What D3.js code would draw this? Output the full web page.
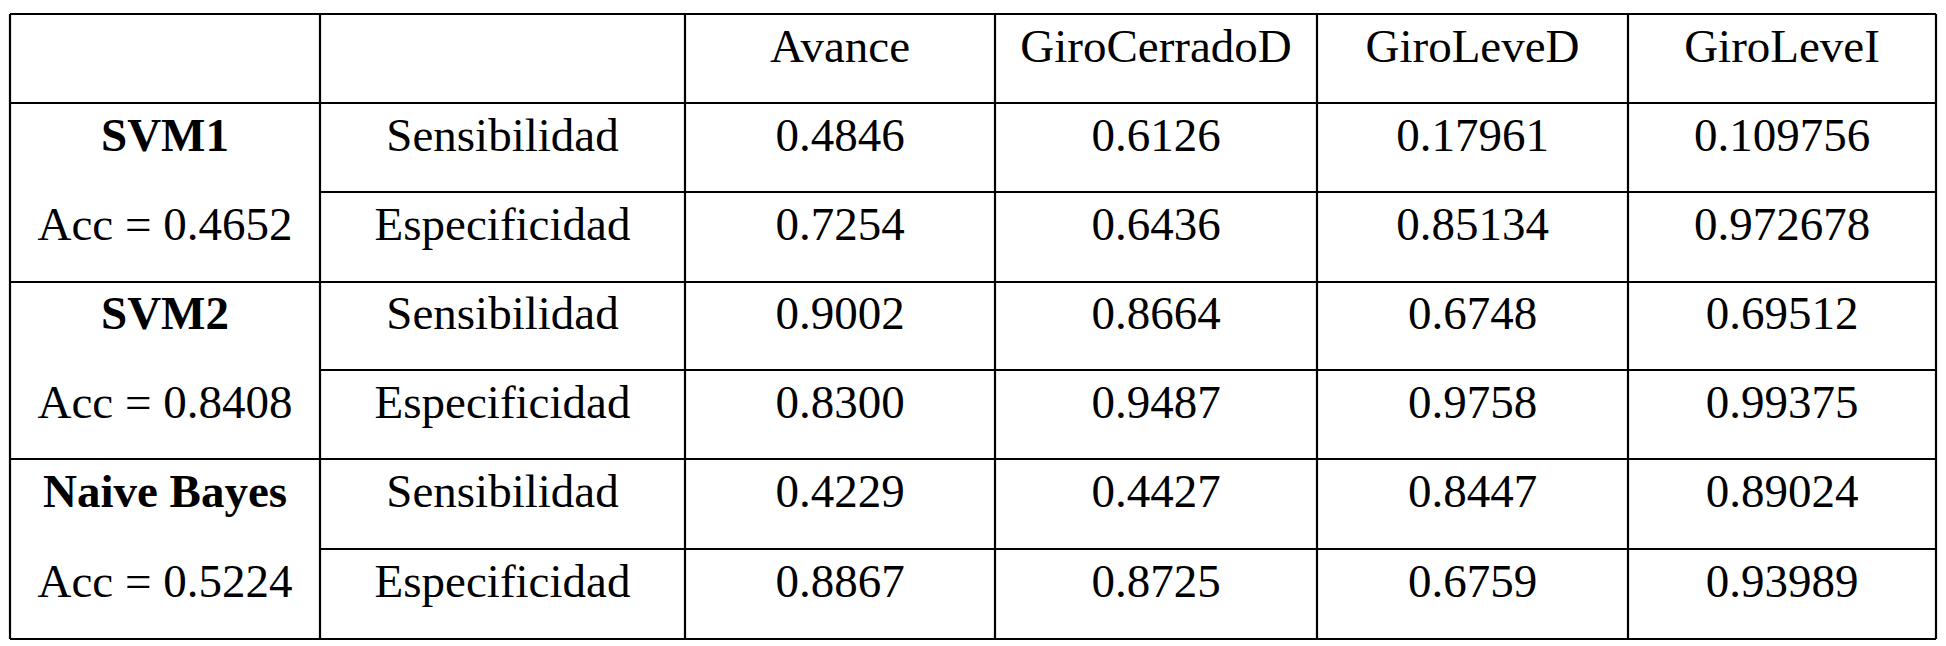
<!DOCTYPE html>
<html><head><meta charset="utf-8">
<script src="https://cdn.jsdelivr.net/npm/d3@7"></script>
<style>body{margin:0;background:#fff}</style>
</head><body><div id="chart"></div>
<script>
var columns = ["Avance", "GiroCerradoD", "GiroLeveD", "GiroLeveI"];
var models = ["SVM1", "SVM2", "Naive Bayes"];
var accuracy = ["Acc = 0.4652", "Acc = 0.8408", "Acc = 0.5224"];
var metrics = ["Sensibilidad", "Especificidad"];
var values = [
  ["0.4846", "0.6126", "0.17961", "0.109756"],
  ["0.7254", "0.6436", "0.85134", "0.972678"],
  ["0.9002", "0.8664", "0.6748", "0.69512"],
  ["0.8300", "0.9487", "0.9758", "0.99375"],
  ["0.4229", "0.4427", "0.8447", "0.89024"],
  ["0.8867", "0.8725", "0.6759", "0.93989"]
];

var W = 1946, H = 646;
var colEdges = [10, 320, 685, 995, 1317, 1628, 1936];
var rowEdges = [14, 103, 192, 282, 370, 459, 549, 639];
var font = "'Liberation Serif','Times New Roman',serif";

var svg = d3.select("#chart").append("svg").attr("width", W).attr("height", H);

function cx(i) { return (colEdges[i] + colEdges[i + 1]) / 2; }
function cy(r) { return (rowEdges[r] + rowEdges[r + 1]) / 2 - 13; }

function text(x, y, s, bold) {
  svg.append("text").attr("x", x).attr("y", y)
    .attr("text-anchor", "middle").attr("dominant-baseline", "central")
    .attr("font-family", font).attr("font-size", 47)
    .attr("font-weight", bold ? "bold" : "normal").text(s);
}

// header
columns.forEach(function(c, i) { text(cx(i + 2), cy(0), c); });

// body
values.forEach(function(row, r) {
  text(cx(1), cy(r + 1), metrics[r % 2]);
  row.forEach(function(v, i) { text(cx(i + 2), cy(r + 1), v); });
});
models.forEach(function(m, g) {
  text(cx(0), cy(1 + g * 2), m, true);
  text(cx(0), cy(2 + g * 2), accuracy[g]);
});

// grid lines
var line = function(x1, y1, x2, y2) {
  svg.append("line").attr("x1", x1).attr("y1", y1).attr("x2", x2).attr("y2", y2)
    .attr("stroke", "#000").attr("stroke-width", 2.2);
};
colEdges.forEach(function(x) { line(x, rowEdges[0], x, rowEdges[rowEdges.length - 1]); });
rowEdges.forEach(function(y, r) {
  // lines inside a model group skip the first column
  var x0 = (r % 2 === 0 && r > 0 && r < rowEdges.length - 1) ? colEdges[1] : colEdges[0];
  line(x0, y, colEdges[colEdges.length - 1], y);
});
</script></body></html>
